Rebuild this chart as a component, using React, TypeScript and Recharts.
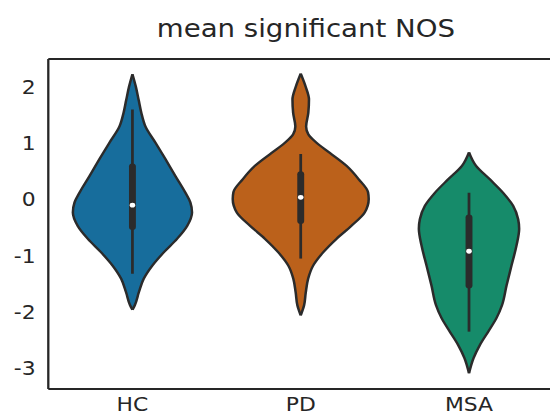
import React from "react";
import {
  ComposedChart,
  Area,
  Line,
  XAxis,
  YAxis,
  ReferenceLine,
} from "recharts";

// groups on the x axis
const GROUPS = ["HC", "PD", "MSA"];
const Y_TICKS = [-3, -2, -1, 0, 1, 2];

// violin outlines: value levels and half width (in category units)
const HC_V = [2.23, 2.01, 1.77, 1.54, 1.3, 1.01, 0.72, 0.42, 0.12, -0.05, -0.23, -0.47, -0.7, -0.94, -1.18, -1.41, -1.65, -1.88, -1.96];
const HC_W = [0, 0.02, 0.037, 0.053, 0.077, 0.137, 0.196, 0.255, 0.315, 0.344, 0.354, 0.325, 0.265, 0.186, 0.117, 0.067, 0.038, 0.014, 0];

const PD_V = [2.24, 2.01, 1.78, 1.54, 1.3, 1.16, 1.01, 0.83, 0.6, 0.36, 0.13, 0.01, -0.23, -0.47, -0.7, -0.94, -1.18, -1.41, -1.65, -1.88, -2.06];
const PD_W = [0, 0.029, 0.049, 0.045, 0.032, 0.045, 0.094, 0.173, 0.272, 0.345, 0.4, 0.404, 0.38, 0.3, 0.212, 0.133, 0.073, 0.044, 0.03, 0.02, 0];

const MSA_V = [0.84, 0.6, 0.36, 0.12, -0.11, -0.35, -0.52, -0.82, -1.18, -1.53, -1.88, -2.11, -2.35, -2.59, -2.82, -3.09];
const MSA_W = [0, 0.042, 0.124, 0.203, 0.262, 0.292, 0.298, 0.282, 0.252, 0.223, 0.196, 0.163, 0.114, 0.064, 0.027, 0];

// inner box: [whisker hi, q3, median, q1, whisker lo]
const HC_BOX = [1.6, 0.59, -0.1, -0.49, -1.32];
const PD_BOX = [0.81, 0.45, 0.04, -0.38, -1.05];
const MSA_BOX = [0.12, -0.32, -0.92, -1.53, -2.35];

const COLORS = ["#176d9c", "#bb611b", "#168b6a"];
const EDGE = "#2b2b2b";
const INK = "#262626";

// the reference image is stretched horizontally
const STRETCH = 1.15;
const CHART_W = 490;
const CHART_H = 440;

const violins = [
  { v: HC_V, w: HC_W, box: HC_BOX },
  { v: PD_V, w: PD_W, box: PD_BOX },
  { v: MSA_V, w: MSA_W, box: MSA_BOX },
];

const shapes = violins.map((g, i) =>
  g.v.map((v, k) => ({ v, r: [i - g.w[k], i + g.w[k]] }))
);
const whiskers = violins.map((g, i) => [
  { v: g.box[0], x: i },
  { v: g.box[4], x: i },
]);
const iqrs = violins.map((g, i) => [
  { v: g.box[1], x: i },
  { v: g.box[3], x: i },
]);
const medians = violins.map((g, i) => [{ v: g.box[2], x: i }]);

export default function App() {
  const tick = { fontSize: 19, fill: INK, fontFamily: "DejaVu Sans" };
  return (
    <div
      style={{
        position: "absolute",
        left: 0,
        top: 0,
        width: 550,
        height: 414,
        overflow: "hidden",
        background: "#fff",
      }}
    >
      <div
        style={{
          position: "relative",
          width: CHART_W,
          height: CHART_H,
          transform: `scaleX(${STRETCH})`,
          transformOrigin: "0 0",
        }}
      >
        <div
          style={{
            position: "absolute",
            left: 0,
            top: 17,
            width: 532,
            textAlign: "center",
            fontFamily: "DejaVu Sans",
            fontSize: 24,
            lineHeight: "24px",
            color: INK,
          }}
        >
          mean significant NOS
        </div>
        <ComposedChart
          layout="vertical"
          width={CHART_W}
          height={CHART_H}
          margin={{ top: 59, right: 9, bottom: 0, left: 0 }}
          style={{ fontFamily: "DejaVu Sans" }}
        >
          <XAxis
            type="number"
            domain={[-0.5, 2.5]}
            ticks={[0, 1, 2]}
            interval={0}
            tickFormatter={(i: number) => GROUPS[i]}
            allowDataOverflow
            height={51}
            tickLine={false}
            tickSize={6}
            tickMargin={3}
            axisLine={{ stroke: INK, strokeWidth: 2 }}
            tick={tick}
          />
          <YAxis
            type="number"
            dataKey="v"
            domain={[-3.37, 2.5]}
            ticks={Y_TICKS}
            interval={0}
            reversed
            allowDataOverflow
            width={42}
            tickLine={false}
            tickSize={6}
            tickMargin={5}
            axisLine={{ stroke: INK, strokeWidth: 2 }}
            tick={tick}
          />
          <ReferenceLine y={2.5} stroke={INK} strokeWidth={2} />
          <ReferenceLine x={2.5} stroke={INK} strokeWidth={2} />
          {shapes.map((d, i) => (
            <Area
              key={"a" + i}
              data={d}
              dataKey="r"
              type="monotone"
              fill={COLORS[i]}
              fillOpacity={1}
              stroke={EDGE}
              strokeWidth={2.2}
              isAnimationActive={false}
            />
          ))}
          {whiskers.map((d, i) => (
            <Line
              key={"w" + i}
              data={d}
              dataKey="x"
              stroke={EDGE}
              strokeWidth={2.4}
              dot={false}
              isAnimationActive={false}
            />
          ))}
          {iqrs.map((d, i) => (
            <Line
              key={"q" + i}
              data={d}
              dataKey="x"
              stroke={EDGE}
              strokeWidth={6}
              strokeLinecap="round"
              dot={false}
              isAnimationActive={false}
            />
          ))}
          {medians.map((d, i) => (
            <Line
              key={"m" + i}
              data={d}
              dataKey="x"
              stroke="none"
              dot={{ r: 2.4, fill: "#ffffff", stroke: "none" }}
              isAnimationActive={false}
            />
          ))}
        </ComposedChart>
      </div>
    </div>
  );
}
